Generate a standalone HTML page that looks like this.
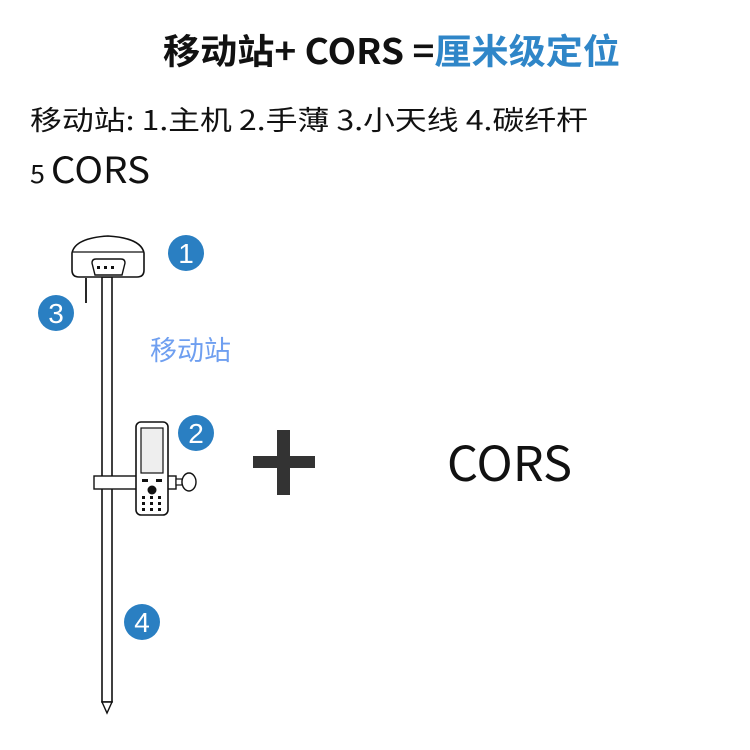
<!DOCTYPE html>
<html><head><meta charset="utf-8"><style>
html,body{margin:0;padding:0;background:#fff;}
svg{display:block}
text{font-family:"Liberation Sans","Noto Sans CJK SC",sans-serif;}
</style></head><body>
<svg width="750" height="750" viewBox="0 0 750 750" xmlns="http://www.w3.org/2000/svg">
<rect width="750" height="750" fill="#fff"/>
<text x="163" y="64" font-size="35" font-weight="bold" fill="#111" textLength="457" lengthAdjust="spacingAndGlyphs" style="font-family:'Noto Sans CJK SC',sans-serif">移动站+ CORS =<tspan fill="#2f86c8">厘米级定位</tspan></text>
<text x="30" y="130" font-size="27" fill="#111" textLength="558" lengthAdjust="spacingAndGlyphs" style="font-family:'Noto Sans CJK SC',sans-serif">移动站: 1.主机  2.手薄 3.小天线  4.碳纤杆</text>
<text x="30" y="183" font-size="25" fill="#111" textLength="120" lengthAdjust="spacingAndGlyphs" style="font-family:'Noto Sans CJK SC',sans-serif">5 <tspan font-size="36">CORS</tspan></text>

<rect x="102" y="277" width="10" height="425" fill="#fff" stroke="#111" stroke-width="1.6"/>
<path d="M102 702 L112 702 L107 713 Z" fill="#fff" stroke="#111" stroke-width="1.4"/>
<line x1="86" y1="278" x2="86" y2="303" stroke="#111" stroke-width="1.8"/>
<path d="M72 253 Q75 238 108 236 Q141 238 144 253 L144 270 Q144 277 137 277 L79 277 Q72 277 72 270 Z" fill="#fff" stroke="#111" stroke-width="1.6"/>
<line x1="73" y1="252" x2="143" y2="252" stroke="#111" stroke-width="1.2"/>
<path d="M92 263 Q92 259 96 259 L121 259 Q125 259 125 263 L122 275 L95 275 Z" fill="#fff" stroke="#111" stroke-width="1.4"/>
<rect x="97" y="266" width="3" height="3" fill="#111"/><rect x="104" y="266" width="3" height="3" fill="#111"/><rect x="111" y="266" width="3" height="3" fill="#111"/>
<rect x="94" y="476" width="82" height="13" fill="#fff" stroke="#111" stroke-width="1.4"/>
<rect x="176" y="479" width="6" height="6" fill="#fff" stroke="#111" stroke-width="1.2"/>
<ellipse cx="189" cy="482" rx="7" ry="9" fill="#fff" stroke="#111" stroke-width="1.4"/>
<rect x="136" y="422" width="32" height="93" rx="5" fill="#fff" stroke="#111" stroke-width="1.6"/>
<rect x="141" y="428" width="22" height="45" fill="#eee" stroke="#111" stroke-width="1.2"/>
<rect x="142" y="479" width="6" height="3" fill="#111"/><rect x="156" y="479" width="6" height="3" fill="#111"/>
<circle cx="152" cy="490" r="4.5" fill="#111"/>
<g fill="#111">
<rect x="142" y="496" width="3" height="3"/><rect x="150" y="496" width="3" height="3"/><rect x="158" y="496" width="3" height="3"/>
<rect x="142" y="502" width="3" height="3"/><rect x="150" y="502" width="3" height="3"/><rect x="158" y="502" width="3" height="3"/>
<rect x="142" y="508" width="3" height="3"/><rect x="150" y="508" width="3" height="3"/><rect x="158" y="508" width="3" height="3"/>
</g>
<g font-size="28" fill="#fff" text-anchor="middle">
<circle cx="186" cy="253" r="18" fill="#2a7fc2"/><text x="186" y="263">1</text>
<circle cx="56" cy="313" r="18" fill="#2a7fc2"/><text x="56" y="323">3</text>
<circle cx="196" cy="433" r="18" fill="#2a7fc2"/><text x="196" y="443">2</text>
<circle cx="142" cy="622" r="18" fill="#2a7fc2"/><text x="142" y="632">4</text>
</g>
<text x="150" y="360" font-size="27" fill="#6f9ff0" style="font-family:'Noto Sans CJK SC',sans-serif">移动站</text>
<rect x="277" y="430" width="13" height="65" fill="#333"/>
<rect x="253" y="456" width="62" height="12" fill="#333"/>
<text x="447" y="481" font-size="48" fill="#111" textLength="125" lengthAdjust="spacingAndGlyphs" style="font-family:'Noto Sans CJK SC',sans-serif">CORS</text>
</svg>
</body></html>
